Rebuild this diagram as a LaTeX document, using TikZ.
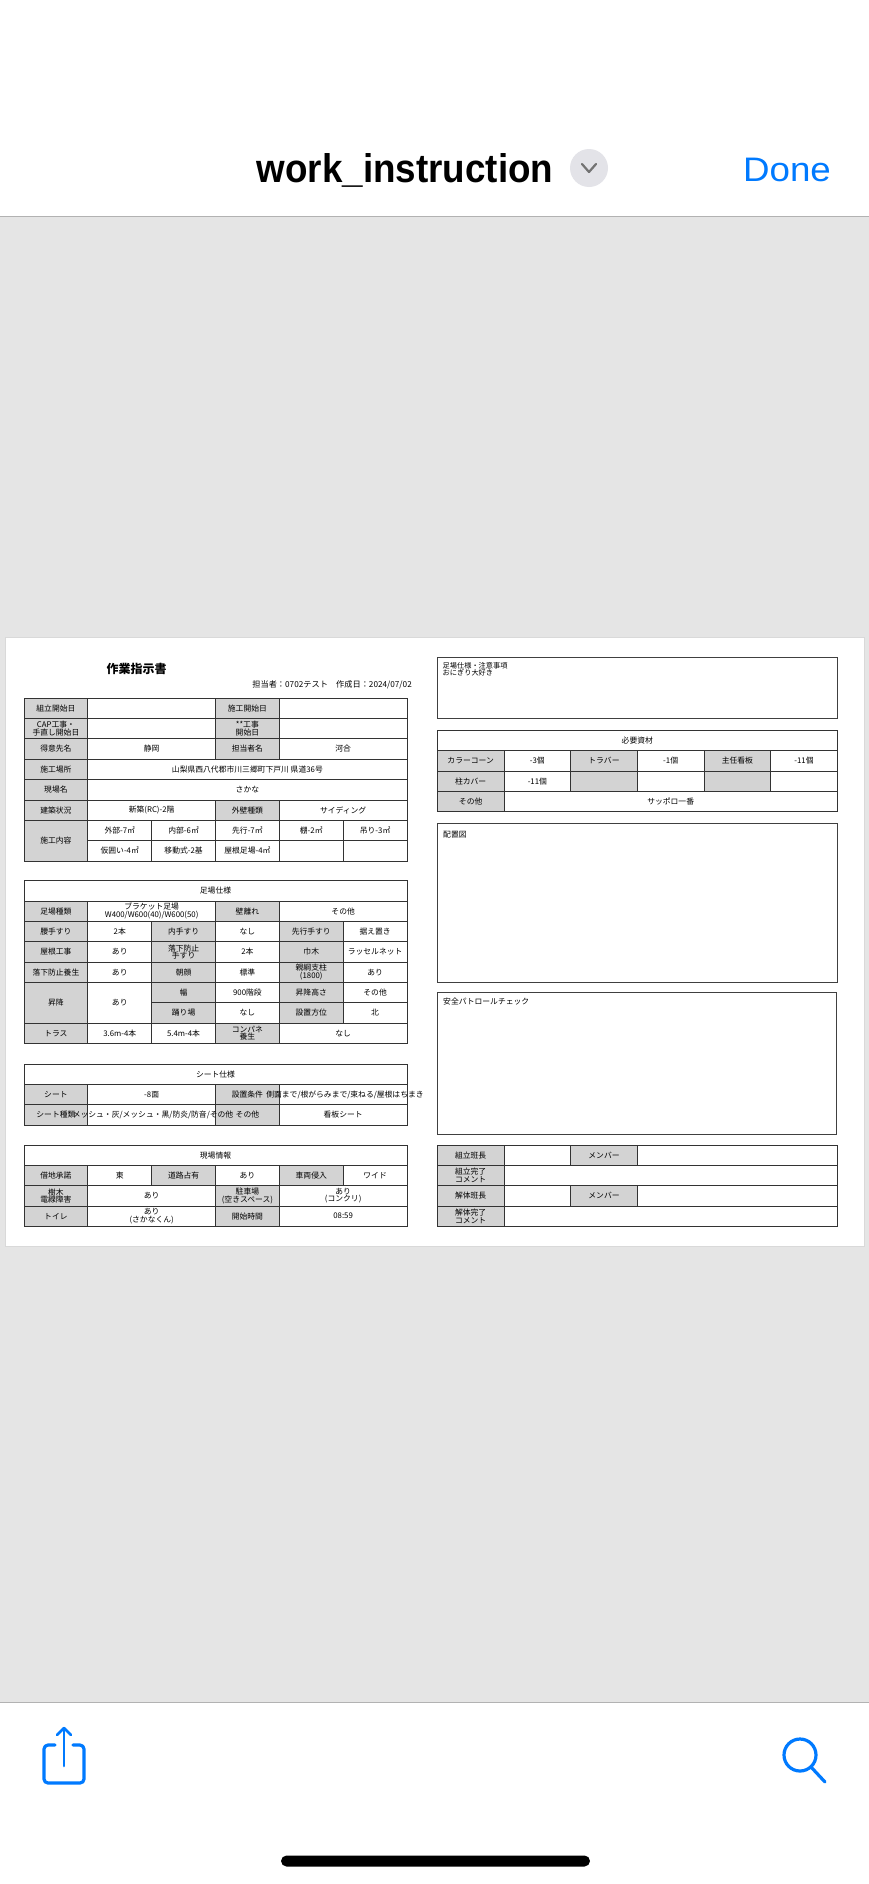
\documentclass[tikz,border=0pt]{standalone}
\usepackage{fontspec}
\setmainfont{Noto Sans CJK JP}
\newfontfamily\uititle[FakeStretch=0.92]{Liberation Sans}
\newfontfamily\uiwide[FakeStretch=1.08]{Liberation Sans}
\usepackage{tikz}

\definecolor{iosblue}{RGB}{0,122,255}
\definecolor{viewgray}{RGB}{229,229,229}
\definecolor{labgray}{RGB}{211,211,211}
\definecolor{chevgray}{RGB}{227,227,232}

\newcommand{\cellfont}{\fontsize{7.8}{7.6}\selectfont}
% one table cell: [style]{x0}{y0}{x1}{y1}{name}{text}
\newcommand{\cellnode}[7][cellw]{%
  \node[#1,minimum width={#4-#2},minimum height={#5-#3}] (#6) at ({(#2+#4)/2},{(#3+#5)/2}) {#7};}

\begin{document}
\begin{tikzpicture}[x=1pt,y=-1pt,
    cellw/.style={draw=black!80,line width=0.8pt,fill=white,inner sep=0pt,align=center,font=\cellfont,text=black},
    cellg/.style={cellw,fill=labgray},
    freetext/.style={inner sep=0pt,font=\cellfont,text=black},
    boxarea/.style={draw=black!75,line width=0.9pt,fill=white,inner sep=0pt},
    icon/.style={draw=iosblue,line width=3.2pt,line cap=round,line join=round}]

    \useasboundingbox (0,0) rectangle (869,1884);
    % screen
    \fill[white] (0,0) rectangle (869,1884);
    \fill[viewgray] (0,216) rectangle (869,1702);
    \draw[gray!60,line width=1pt] (0,216) -- (869,216);
    \draw[gray!60,line width=1pt] (0,1702) -- (869,1702);

    % header bar
    \node[anchor=base,inner sep=0pt,font=\uititle\bfseries\fontsize{40}{42}\selectfont] (fname) at (405,182) {work\_instruction};
    \node[circle,fill=chevgray,minimum size=38pt,inner sep=0pt] (chev) at (589,168) {};
    \draw[black!55,line width=2.2pt,line cap=round,line join=round] (582,164) -- (589,172) -- (596,164);
    \node[anchor=base,inner sep=0pt,font=\uiwide\fontsize{34}{36}\selectfont,text=iosblue] (done) at (787,181) {Done};

    % page
    \fill[white,draw=gray!30] (5,637) rectangle (864,1246);
    \node[inner sep=0pt,font=\bfseries\fontsize{12}{13}\selectfont] (title) at (136.7,669.3) {作業指示書};
    \node[anchor=east,inner sep=0pt,font=\fontsize{8.2}{9}\selectfont] (author) at (412,685) {担当者：0702テスト　作成日：2024/07/02};

    % table 1
    \cellnode[cellg]{24}{698}{87.8}{718.4}{t1r0c0}{組立開始日}
    \cellnode{87.8}{698}{215.5}{718.4}{t1r0c1}{}
    \cellnode[cellg]{215.5}{698}{279.3}{718.4}{t1r0c3}{施工開始日}
    \cellnode{279.3}{698}{407}{718.4}{t1r0c4}{}
    \cellnode[cellg]{24}{718.4}{87.8}{738.8}{t1r1c0}{CAP工事・\\手直し開始日}
    \cellnode{87.8}{718.4}{215.5}{738.8}{t1r1c1}{}
    \cellnode[cellg]{215.5}{718.4}{279.3}{738.8}{t1r1c3}{**工事\\開始日}
    \cellnode{279.3}{718.4}{407}{738.8}{t1r1c4}{}
    \cellnode[cellg]{24}{738.8}{87.8}{759.1}{t1r2c0}{得意先名}
    \cellnode{87.8}{738.8}{215.5}{759.1}{t1r2c1}{静岡}
    \cellnode[cellg]{215.5}{738.8}{279.3}{759.1}{t1r2c3}{担当者名}
    \cellnode{279.3}{738.8}{407}{759.1}{t1r2c4}{河合}
    \cellnode[cellg]{24}{759.1}{87.8}{779.5}{t1r3c0}{施工場所}
    \cellnode{87.8}{759.1}{407}{779.5}{t1r3c1}{山梨県西八代郡市川三郷町下戸川 県道36号}
    \cellnode[cellg]{24}{779.5}{87.8}{799.9}{t1r4c0}{現場名}
    \cellnode{87.8}{779.5}{407}{799.9}{t1r4c1}{さかな}
    \cellnode[cellg]{24}{799.9}{87.8}{820.3}{t1r5c0}{建築状況}
    \cellnode{87.8}{799.9}{215.5}{820.3}{t1r5c1}{新築(RC)-2階}
    \cellnode[cellg]{215.5}{799.9}{279.3}{820.3}{t1r5c3}{外壁種類}
    \cellnode{279.3}{799.9}{407}{820.3}{t1r5c4}{サイディング}
    \cellnode[cellg]{24}{820.3}{87.8}{861}{t1r6c0}{施工内容}
    \cellnode{87.8}{820.3}{151.7}{840.6}{t1r6c1}{外部-7㎡}
    \cellnode{151.7}{820.3}{215.5}{840.6}{t1r6c2}{内部-6㎡}
    \cellnode{215.5}{820.3}{279.3}{840.6}{t1r6c3}{先行-7㎡}
    \cellnode{279.3}{820.3}{343.2}{840.6}{t1r6c4}{棚-2㎡}
    \cellnode{343.2}{820.3}{407}{840.6}{t1r6c5}{吊り-3㎡}
    \cellnode{87.8}{840.6}{151.7}{861}{t1r7c1}{仮囲い-4㎡}
    \cellnode{151.7}{840.6}{215.5}{861}{t1r7c2}{移動式-2基}
    \cellnode{215.5}{840.6}{279.3}{861}{t1r7c3}{屋根足場-4㎡}
    \cellnode{279.3}{840.6}{343.2}{861}{t1r7c4}{}
    \cellnode{343.2}{840.6}{407}{861}{t1r7c5}{}

    % table 2
    \cellnode{24}{880.7}{407}{901}{t2r0}{足場仕様}
    \cellnode[cellg]{24}{901}{87.8}{921.3}{t2r1c0}{足場種類}
    \cellnode{87.8}{901}{215.5}{921.3}{t2r1c1}{ブラケット足場\\W400/W600(40)/W600(50)}
    \cellnode[cellg]{215.5}{901}{279.3}{921.3}{t2r1c3}{壁離れ}
    \cellnode{279.3}{901}{407}{921.3}{t2r1c4}{その他}
    \cellnode[cellg]{24}{921.3}{87.8}{941.7}{t2r2c0}{腰手すり}
    \cellnode{87.8}{921.3}{151.7}{941.7}{t2r2c1}{2本}
    \cellnode[cellg]{151.7}{921.3}{215.5}{941.7}{t2r2c2}{内手すり}
    \cellnode{215.5}{921.3}{279.3}{941.7}{t2r2c3}{なし}
    \cellnode[cellg]{279.3}{921.3}{343.2}{941.7}{t2r2c4}{先行手すり}
    \cellnode{343.2}{921.3}{407}{941.7}{t2r2c5}{据え置き}
    \cellnode[cellg]{24}{941.7}{87.8}{962}{t2r3c0}{屋根工事}
    \cellnode{87.8}{941.7}{151.7}{962}{t2r3c1}{あり}
    \cellnode[cellg]{151.7}{941.7}{215.5}{962}{t2r3c2}{落下防止\\手すり}
    \cellnode{215.5}{941.7}{279.3}{962}{t2r3c3}{2本}
    \cellnode[cellg]{279.3}{941.7}{343.2}{962}{t2r3c4}{巾木}
    \cellnode{343.2}{941.7}{407}{962}{t2r3c5}{ラッセルネット}
    \cellnode[cellg]{24}{962}{87.8}{982.3}{t2r4c0}{落下防止養生}
    \cellnode{87.8}{962}{151.7}{982.3}{t2r4c1}{あり}
    \cellnode[cellg]{151.7}{962}{215.5}{982.3}{t2r4c2}{朝顔}
    \cellnode{215.5}{962}{279.3}{982.3}{t2r4c3}{標準}
    \cellnode[cellg]{279.3}{962}{343.2}{982.3}{t2r4c4}{親綱支柱\\(1800)}
    \cellnode{343.2}{962}{407}{982.3}{t2r4c5}{あり}
    \cellnode[cellg]{24}{982.3}{87.8}{1023}{t2r5c0}{昇降}
    \cellnode{87.8}{982.3}{151.7}{1023}{t2r5c1}{あり}
    \cellnode[cellg]{151.7}{982.3}{215.5}{1002.7}{t2r5c2}{幅}
    \cellnode{215.5}{982.3}{279.3}{1002.7}{t2r5c3}{900階段}
    \cellnode[cellg]{279.3}{982.3}{343.2}{1002.7}{t2r5c4}{昇降高さ}
    \cellnode{343.2}{982.3}{407}{1002.7}{t2r5c5}{その他}
    \cellnode[cellg]{151.7}{1002.7}{215.5}{1023}{t2r6c2}{踊り場}
    \cellnode{215.5}{1002.7}{279.3}{1023}{t2r6c3}{なし}
    \cellnode[cellg]{279.3}{1002.7}{343.2}{1023}{t2r6c4}{設置方位}
    \cellnode{343.2}{1002.7}{407}{1023}{t2r6c5}{北}
    \cellnode[cellg]{24}{1023}{87.8}{1043.3}{t2r7c0}{トラス}
    \cellnode{87.8}{1023}{151.7}{1043.3}{t2r7c1}{3.6m-4本}
    \cellnode{151.7}{1023}{215.5}{1043.3}{t2r7c2}{5.4m-4本}
    \cellnode[cellg]{215.5}{1023}{279.3}{1043.3}{t2r7c3}{コンパネ\\養生}
    \cellnode{279.3}{1023}{407}{1043.3}{t2r7c4}{なし}

    % table 3
    \cellnode{24}{1064}{407}{1084.3}{t3r0}{シート仕様}
    \cellnode[cellg]{24}{1084.3}{87.8}{1104.7}{t3r1c0}{シート}
    \cellnode{87.8}{1084.3}{215.5}{1104.7}{t3r1c1}{-8面}
    \cellnode[cellg]{215.5}{1084.3}{279.3}{1104.7}{t3r1c3}{設置条件}
    \cellnode{279.3}{1084.3}{407}{1104.7}{t3r1c4}{}
    \cellnode[cellg]{24}{1104.7}{87.8}{1125}{t3r2c0}{シート種類}
    \cellnode{87.8}{1104.7}{215.5}{1125}{t3r2c1}{}
    \cellnode[cellg]{215.5}{1104.7}{279.3}{1125}{t3r2c3}{その他}
    \cellnode{279.3}{1104.7}{407}{1125}{t3r2c4}{看板シート}
    % texts that run past their cells
    \node[freetext] (setval) at (345,1094.5) {側面まで/根がらみまで/束ねる/屋根はちまき};
    \node[freetext] (sheetval) at (153,1114.9) {メッシュ・灰/メッシュ・黒/防炎/防音/その他};

    % table 4
    \cellnode{24}{1145}{407}{1165.3}{t4r0}{現場情報}
    \cellnode[cellg]{24}{1165.3}{87.8}{1185.7}{t4r1c0}{借地承諾}
    \cellnode{87.8}{1165.3}{151.7}{1185.7}{t4r1c1}{東}
    \cellnode[cellg]{151.7}{1165.3}{215.5}{1185.7}{t4r1c2}{道路占有}
    \cellnode{215.5}{1165.3}{279.3}{1185.7}{t4r1c3}{あり}
    \cellnode[cellg]{279.3}{1165.3}{343.2}{1185.7}{t4r1c4}{車両侵入}
    \cellnode{343.2}{1165.3}{407}{1185.7}{t4r1c5}{ワイド}
    \cellnode[cellg]{24}{1185.7}{87.8}{1206}{t4r2c0}{樹木\\電線障害}
    \cellnode{87.8}{1185.7}{215.5}{1206}{t4r2c1}{あり}
    \cellnode[cellg]{215.5}{1185.7}{279.3}{1206}{t4r2c3}{駐車場\\(空きスペース)}
    \cellnode{279.3}{1185.7}{407}{1206}{t4r2c4}{あり\\(コンクリ)}
    \cellnode[cellg]{24}{1206}{87.8}{1226.3}{t4r3c0}{トイレ}
    \cellnode{87.8}{1206}{215.5}{1226.3}{t4r3c1}{あり\\(さかなくん)}
    \cellnode[cellg]{215.5}{1206}{279.3}{1226.3}{t4r3c3}{開始時間}
    \cellnode{279.3}{1206}{407}{1226.3}{t4r3c4}{08:59}

    % right column
    \draw[boxarea] (437.3,657.7) rectangle (837.3,718.7);
    \node[anchor=north west,inner sep=0pt,align=left,font=\fontsize{7.2}{7.4}\selectfont] (notes) at (442.5,662) {足場仕様・注意事項\\おにぎり大好き};

    \cellnode{437.3}{730}{837.3}{750.5}{r1r0}{必要資材}
    \cellnode[cellg]{437.3}{750.5}{504}{771}{r1r1c0}{カラーコーン}
    \cellnode{504}{750.5}{570.7}{771}{r1r1c1}{-3個}
    \cellnode[cellg]{570.7}{750.5}{637.3}{771}{r1r1c2}{トラバー}
    \cellnode{637.3}{750.5}{704}{771}{r1r1c3}{-1個}
    \cellnode[cellg]{704}{750.5}{770.7}{771}{r1r1c4}{主任看板}
    \cellnode{770.7}{750.5}{837.3}{771}{r1r1c5}{-11個}
    \cellnode[cellg]{437.3}{771}{504}{791.3}{r1r2c0}{柱カバー}
    \cellnode{504}{771}{570.7}{791.3}{r1r2c1}{-11個}
    \cellnode[cellg]{570.7}{771}{637.3}{791.3}{r1r2c2}{}
    \cellnode{637.3}{771}{704}{791.3}{r1r2c3}{}
    \cellnode[cellg]{704}{771}{770.7}{791.3}{r1r2c4}{}
    \cellnode{770.7}{771}{837.3}{791.3}{r1r2c5}{}
    \cellnode[cellg]{437.3}{791.3}{504}{811.7}{r1r3c0}{その他}
    \cellnode{504}{791.3}{837.3}{811.7}{r1r3c1}{サッポロ一番}

    \draw[boxarea] (437.3,823.3) rectangle (837.3,982.7);
    \node[anchor=west,inner sep=0pt,font=\cellfont] (layout) at (443,835) {配置図};
    \draw[boxarea] (437.3,992.7) rectangle (836.3,1134.3);
    \node[anchor=west,inner sep=0pt,font=\cellfont] (patrol) at (443,1002) {安全パトロールチェック};

    \cellnode[cellg]{437.3}{1145}{504}{1165.3}{r2r0c0}{組立班長}
    \cellnode{504}{1145}{570.7}{1165.3}{r2r0c1}{}
    \cellnode[cellg]{570.7}{1145}{637.3}{1165.3}{r2r0c2}{メンバー}
    \cellnode{637.3}{1145}{837.3}{1165.3}{r2r0c3}{}
    \cellnode[cellg]{437.3}{1165.3}{504}{1185.7}{r2r1c0}{組立完了\\コメント}
    \cellnode{504}{1165.3}{837.3}{1185.7}{r2r1c1}{}
    \cellnode[cellg]{437.3}{1185.7}{504}{1206}{r2r2c0}{解体班長}
    \cellnode{504}{1185.7}{570.7}{1206}{r2r2c1}{}
    \cellnode[cellg]{570.7}{1185.7}{637.3}{1206}{r2r2c2}{メンバー}
    \cellnode{637.3}{1185.7}{837.3}{1206}{r2r2c3}{}
    \cellnode[cellg]{437.3}{1206}{504}{1226.3}{r2r3c0}{解体完了\\コメント}
    \cellnode{504}{1206}{837.3}{1226.3}{r2r3c1}{}

    % toolbar
    \draw[icon,rounded corners=4pt] (55,1745) -- (44,1745) -- (44,1783) -- (84,1783) -- (84,1745) -- (73,1745);
    \draw[icon,line width=2.6pt] (64,1766) -- (64,1728);
    \draw[icon,line width=2.6pt] (57,1735) -- (64,1728) -- (71,1735);
    \draw[icon] (800,1755) circle[radius=16];
    \draw[icon] (811.5,1767.5) -- (825,1782);
    \fill[black,rounded corners=5.5pt] (281,1855.5) rectangle (590,1866.5);
\end{tikzpicture}
\end{document}
